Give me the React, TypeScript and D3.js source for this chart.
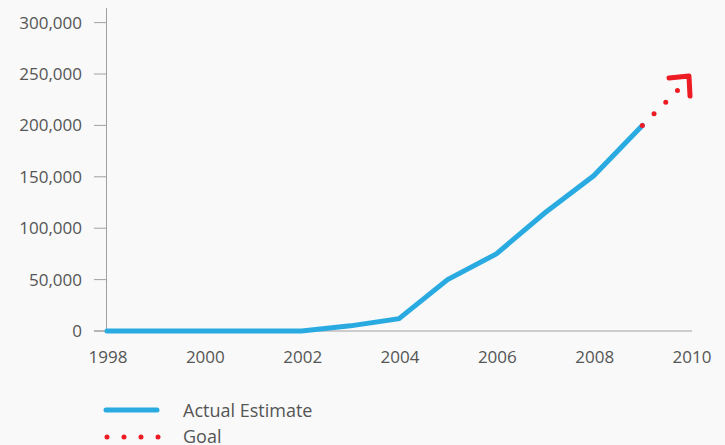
import React from "react";
import * as d3 from "d3";

const years = [1998, 1999, 2000, 2001, 2002, 2003, 2004, 2005, 2006, 2007, 2008, 2009];
const actual = [0, 0, 0, 0, 0, 5000, 12000, 50000, 75000, 115000, 151000, 200000];
const goalYears = [2009, 2010];
const goalValues = [200000, 247000];
const xTicks = [1998, 2000, 2002, 2004, 2006, 2008, 2010];
const yTicks = [0, 50000, 100000, 150000, 200000, 250000, 300000];
const legendLabels = ["Actual Estimate", "Goal"];

const W = 725, H = 445;
const BLUE = "#29abe2";
const RED = "#ed1c24";
const TEXT = "#555";
const AXIS = "#a0a0a0";
const FONT = "'Open Sans', 'Noto Sans', sans-serif";

export default function App() {
  const x = d3.scaleLinear().domain([1998, 2010]).range([107, 691]);
  const y = d3.scaleLinear().domain([0, 300000]).range([331, 22.6]);
  const line = d3.line<[number, number]>().x((d) => x(d[0])).y((d) => y(d[1]));
  const actualPts: [number, number][] = years.map((yr, i) => [yr, actual[i]]);
  const goalPts: [number, number][] = goalYears.map((yr, i) => [yr, goalValues[i]]);
  const fmt = d3.format(",");

  const tipX = x(goalYears[1]) - 2;
  const tipY = y(goalValues[1]) - 1;

  return (
    <svg width={W} height={H} style={{ position: "absolute", left: 0, top: 0, background: "#f8f9f8" }} fontFamily={FONT}>
      {/* y axis */}
      <line x1={x(1998) - 0.5} x2={x(1998) - 0.5} y1={8} y2={y(0)} stroke={AXIS} strokeWidth={1} />
      {yTicks.map((t) => (
        <g key={t}>
          <line x1={94} x2={x(1998)} y1={y(t)} y2={y(t)} stroke={AXIS} strokeWidth={1} />
          <text x={82} y={y(t)} dy="0.35em" textAnchor="end" fontSize={17} fill={TEXT}>{fmt(t)}</text>
        </g>
      ))}
      {/* x axis */}
      <line x1={94} x2={692} y1={y(0)} y2={y(0)} stroke={AXIS} strokeWidth={1} />
      {xTicks.map((t) => (
        <text key={t} x={x(t) + 1} y={363} textAnchor="middle" fontSize={17} fill={TEXT}>{t}</text>
      ))}
      {/* actual line */}
      <path d={line(actualPts) || ""} fill="none" stroke={BLUE} strokeWidth={5} strokeLinecap="round" strokeLinejoin="miter" />
      {/* goal dotted */}
      <path
        d={line([goalPts[0], [goalYears[1] - 0.25, goalValues[0] + (goalValues[1] - goalValues[0]) * 0.75]]) || ""}
        fill="none" stroke={RED} strokeWidth={5} strokeLinecap="round" strokeDasharray="0 16.5"
      />
      <path d={`M${tipX - 20},${tipY + 2} L${tipX},${tipY} L${tipX + 1},${tipY + 20}`} fill="none" stroke={RED} strokeWidth={5} strokeLinecap="round" strokeLinejoin="round" />
      {/* legend */}
      <line x1={106} x2={157} y1={410} y2={410} stroke={BLUE} strokeWidth={5} strokeLinecap="round" />
      <text x={183} y={417} fontSize={18} fill={TEXT}>{legendLabels[0]}</text>
      <line x1={107} x2={160} y1={437} y2={437} stroke={RED} strokeWidth={5} strokeLinecap="round" strokeDasharray="0 17" />
      <text x={183} y={443} fontSize={18} fill={TEXT}>{legendLabels[1]}</text>
    </svg>
  );
}
